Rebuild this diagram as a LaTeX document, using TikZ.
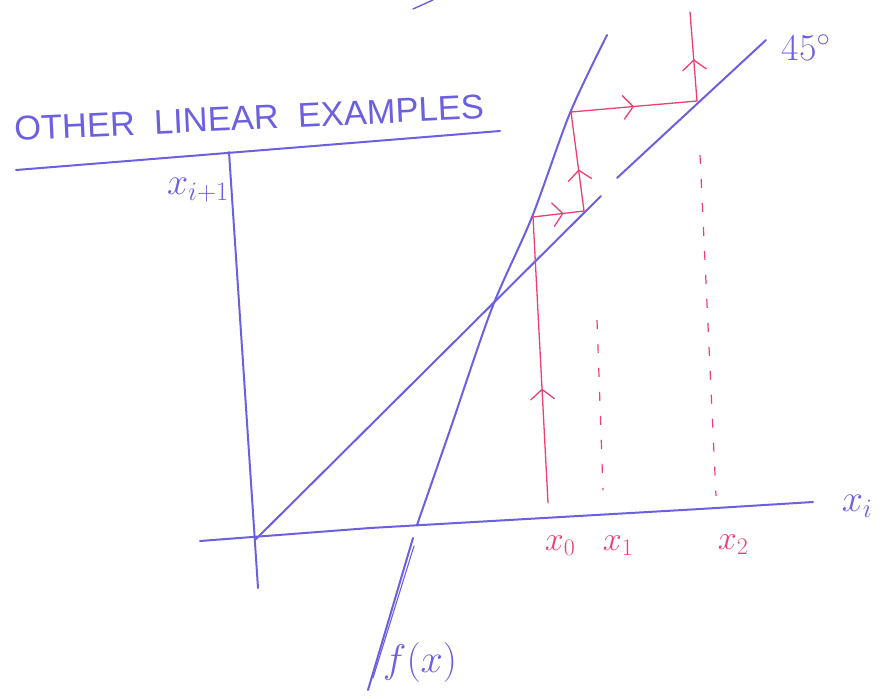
\RequirePackage{fix-cm}
\documentclass[tikz,border=0pt]{standalone}
\usepackage{fontspec}
\setsansfont{Liberation Sans}
\usepackage{graphicx}
\usetikzlibrary{arrows.meta,decorations.markings,calc}
\definecolor{penblue}{RGB}{108,96,226}
\definecolor{penred}{RGB}{238,64,112}
\begin{document}
\begin{tikzpicture}[x=1pt,y=-1pt,
  bluepen/.style={draw=penblue,line width=2pt,line cap=round,line join=round},
  redpen/.style={draw=penred,line width=1.3pt,line cap=round,line join=round},
  reddash/.style={draw=penred,line width=1.2pt,dash pattern=on 9pt off 15pt},
  flowarrow/.style={postaction={decorate},decoration={markings,mark=at position #1 with {\arrow{Straight Barb[length=10pt,width=24pt,line width=1.3pt,color=penred]}}}},
  bluelabel/.style={text=penblue,font=\fontsize{38}{40}\selectfont},
  redlabel/.style={text=penred,font=\fontsize{34}{36}\selectfont},
]
\useasboundingbox (0,0) rectangle (882,698);

% stray stroke at the top
\coordinate (topA) at (413,9);
\coordinate (topB) at (433,0);
\draw[bluepen,line width=1.4pt] (topA) -- (topB);

% title and its rule
\node[text=penblue,font=\sffamily,rotate=2.7,inner sep=0pt] (title) at (249,118)
  {\resizebox{470pt}{24pt}{OTHER\ \ LINEAR\ \ EXAMPLES}};
\coordinate (ruleL) at (16,170);
\coordinate (ruleR) at (500,131);
\draw[bluepen] (ruleL) -- (ruleR);

% axes
\coordinate (yTop) at (229,152);
\coordinate (yBot) at (258,588);
\draw[bluepen] (yTop) -- (yBot);
\coordinate (xL) at (200,541);
\coordinate (xM1) at (370,528);
\coordinate (xM2) at (700,509);
\coordinate (xR) at (813,502);
\draw[bluepen] (xL) -- (xM1) -- (xM2) -- (xR);

% 45 degree line (drawn with a small gap)
\coordinate (O) at (255,540);
\coordinate (dA) at (601,196);
\coordinate (dB) at (617,178);
\coordinate (dC) at (766,40);
\draw[bluepen] (O) -- (dA);
\draw[bluepen] (dB) -- (dC);

% f(x) line
\coordinate (f1) at (417,525);
\coordinate (f2) at (450,430);
\coordinate (f3) at (492,308);
\coordinate (f4) at (532,217);
\coordinate (f5) at (570,113);
\coordinate (f6) at (607,35);
\draw[bluepen] plot[smooth,tension=0.5] coordinates {(f1) (f2) (f3) (f4) (f5) (f6)};
\coordinate (g1) at (413,538);
\coordinate (g2) at (368,690);
\draw[bluepen] (g1) -- (g2);
\draw[bluepen,line width=1.1pt] ($(g1)+(1,8)$) -- ($(g2)+(5,-12)$);

% cobweb
\coordinate (r0) at (548,503);
\coordinate (r1) at (533,217);
\coordinate (r2) at (584,211);
\coordinate (r3) at (571,112);
\coordinate (r4) at (697,101);
\coordinate (r5) at (690,12);
\draw[redpen,flowarrow=0.4] (r0) -- (r1);
\draw[redpen,flowarrow=0.6] (r1) -- (r2);
\draw[redpen,flowarrow=0.42] (r2) -- (r3);
\draw[redpen,flowarrow=0.5] (r3) -- (r4);
\draw[redpen,flowarrow=0.47] (r4) -- (r5);

% dashed guides
\coordinate (d1a) at (597,320);
\coordinate (d1b) at (603,490);
\draw[reddash] (d1a) -- (d1b);
\coordinate (d2a) at (700,155);
\coordinate (d2b) at (716,496);
\draw[reddash] (d2a) -- (d2b);

% labels
\node[bluelabel] (lyi) at (198,190) {$x_{i+1}$};
\node[bluelabel] (lxi) at (857,506) {$x_i$};
\node[bluelabel] (l45) at (806,48) {45$^{\circ}$};
\node[bluelabel,font=\fontsize{40}{42}\selectfont] (lf) at (420,662) {$f(x)$};
\node[redlabel] (lx0) at (560,546) {$x_0$};
\node[redlabel] (lx1) at (618,546) {$x_1$};
\node[redlabel] (lx2) at (733,545) {$x_2$};
\end{tikzpicture}
\end{document}
